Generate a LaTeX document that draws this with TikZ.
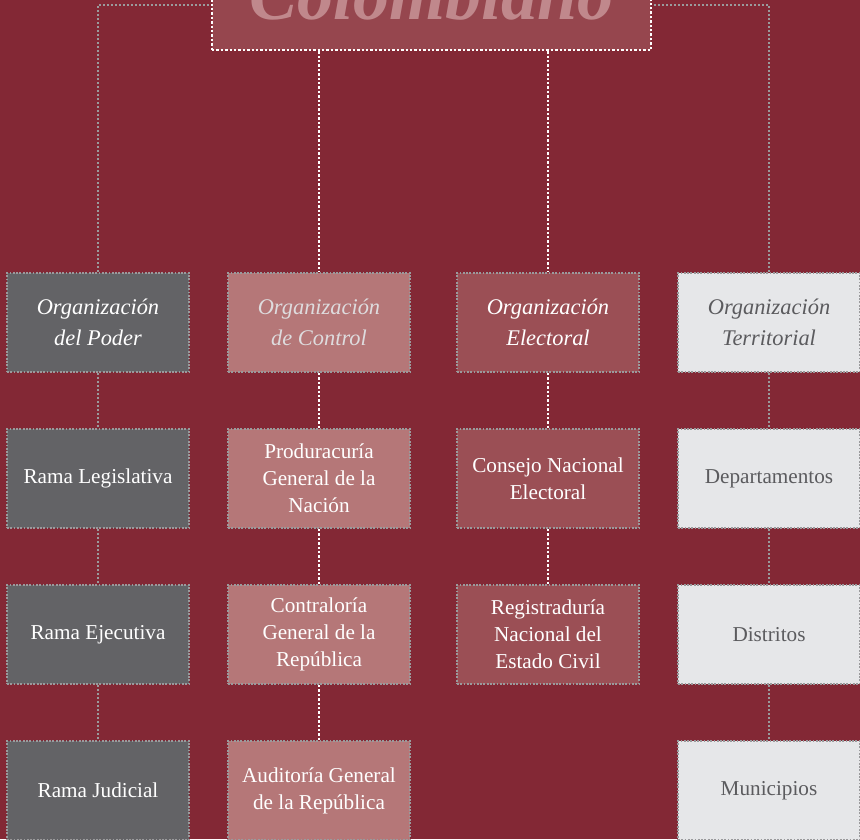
\documentclass[tikz,border=0pt]{standalone}
\usepackage{fontspec}
\setmainfont{Liberation Serif}
\usetikzlibrary{positioning}
\definecolor{bgRed}{RGB}{131,40,53}
\definecolor{titleRed}{RGB}{150,70,78}
\definecolor{titleText}{RGB}{192,136,140}
\definecolor{poderGray}{RGB}{99,99,102}
\definecolor{controlPink}{RGB}{181,119,120}
\definecolor{electRed}{RGB}{155,79,85}
\definecolor{terrLight}{RGB}{230,231,233}
\definecolor{terrText}{RGB}{91,91,94}
\definecolor{dotGray}{RGB}{154,154,156}
\definecolor{softWhite}{RGB}{222,220,222}

\begin{document}
\begin{tikzpicture}[x=0.5pt,y=-0.5pt,
    box/.style={draw=dotGray, line width=0.9pt, dash pattern=on 0.9pt off 0.75pt,
      minimum width=91pt, minimum height=49.5pt, inner sep=1pt, align=center,
      font=\fontsize{10.6}{13.5}\selectfont},
    head/.style={box, font=\fontsize{11.2}{15.5}\selectfont\itshape},
    gline/.style={dotGray, line width=1pt, dash pattern=on 1pt off 1pt},
    wline/.style={white, line width=1.2pt, dash pattern=on 1.2pt off 1pt}]

      \clip (0,0) rectangle (860,839);
      \useasboundingbox (0,0) rectangle (860,839);
      \fill[bgRed] (0,0) rectangle (860,839);

      \def\poder{{Rama Legislativa},{Rama Ejecutiva},{Rama Judicial}}
      \def\control{{Produracuría\\General de la\\Nación},
        {Contraloría\\General de la\\República},
        {Auditoría General\\de la República}}
      \def\electoral{{Consejo Nacional\\Electoral},
        {Registraduría\\Nacional del\\Estado Civil}}
      \def\territorial{Departamentos,Distritos,Municipios}

      % the title box
      \node[fill=titleRed, draw=white, line width=1.2pt, dash pattern=on 1.2pt off 1pt,
        minimum width=219.5pt, minimum height=55pt, text=titleText,
        font=\fontsize{36}{36}\selectfont\bfseries\itshape] (titulo) at (431.5,-5) {Colombiano};
      \coordinate (topline) at (0,5);

      % draw the four organizations
      \node[head, fill=poderGray, text=white] (pod0) at (98,322.5) {Organización\\del Poder};
      \node[head, fill=controlPink, text=softWhite] (con0) at (319,322.5) {Organización\\de Control};
      \node[head, fill=electRed, text=white] (ele0) at (548,322.5) {Organización\\Electoral};
      \node[head, fill=terrLight, text=terrText] (ter0) at (769,322.5) {Organización\\Territorial};

      % draw the branches of each one
      \foreach \n [count=\ni] in \poder
      {
        \pgfmathsetmacro\cy{322.5+\ni*156}
        \node[box, fill=poderGray, text=white] (pod\ni) at (98,\cy) {\n};
      }
      \foreach \n [count=\ni] in \control
      {
        \pgfmathsetmacro\cy{322.5+\ni*156}
        \node[box, fill=controlPink, text=white] (con\ni) at (319,\cy) {\n};
      }
      \foreach \n [count=\ni] in \electoral
      {
        \pgfmathsetmacro\cy{322.5+\ni*156}
        \node[box, fill=electRed, text=white] (ele\ni) at (548,\cy) {\n};
      }
      \foreach \n [count=\ni] in \territorial
      {
        \pgfmathsetmacro\cy{322.5+\ni*156}
        \node[box, fill=terrLight, text=terrText] (ter\ni) at (769,\cy) {\n};
      }

      % the links
      \draw[gline] (pod0.north) |- (titulo.west |- topline);
      \draw[gline] (ter0.north) |- (titulo.east |- topline);
      \draw[wline] (titulo.south -| con0.north) -- (con0.north);
      \draw[wline] (titulo.south -| ele0.north) -- (ele0.north);
      \foreach \i [count=\j from 0] in {1,2,3}
      {
        \draw[gline] (pod\j.south) -- (pod\i.north);
        \draw[wline] (con\j.south) -- (con\i.north);
        \draw[gline] (ter\j.south) -- (ter\i.north);
      }
      \foreach \i [count=\j from 0] in {1,2}
      \draw[wline] (ele\j.south) -- (ele\i.north);

\end{tikzpicture}
\end{document}
